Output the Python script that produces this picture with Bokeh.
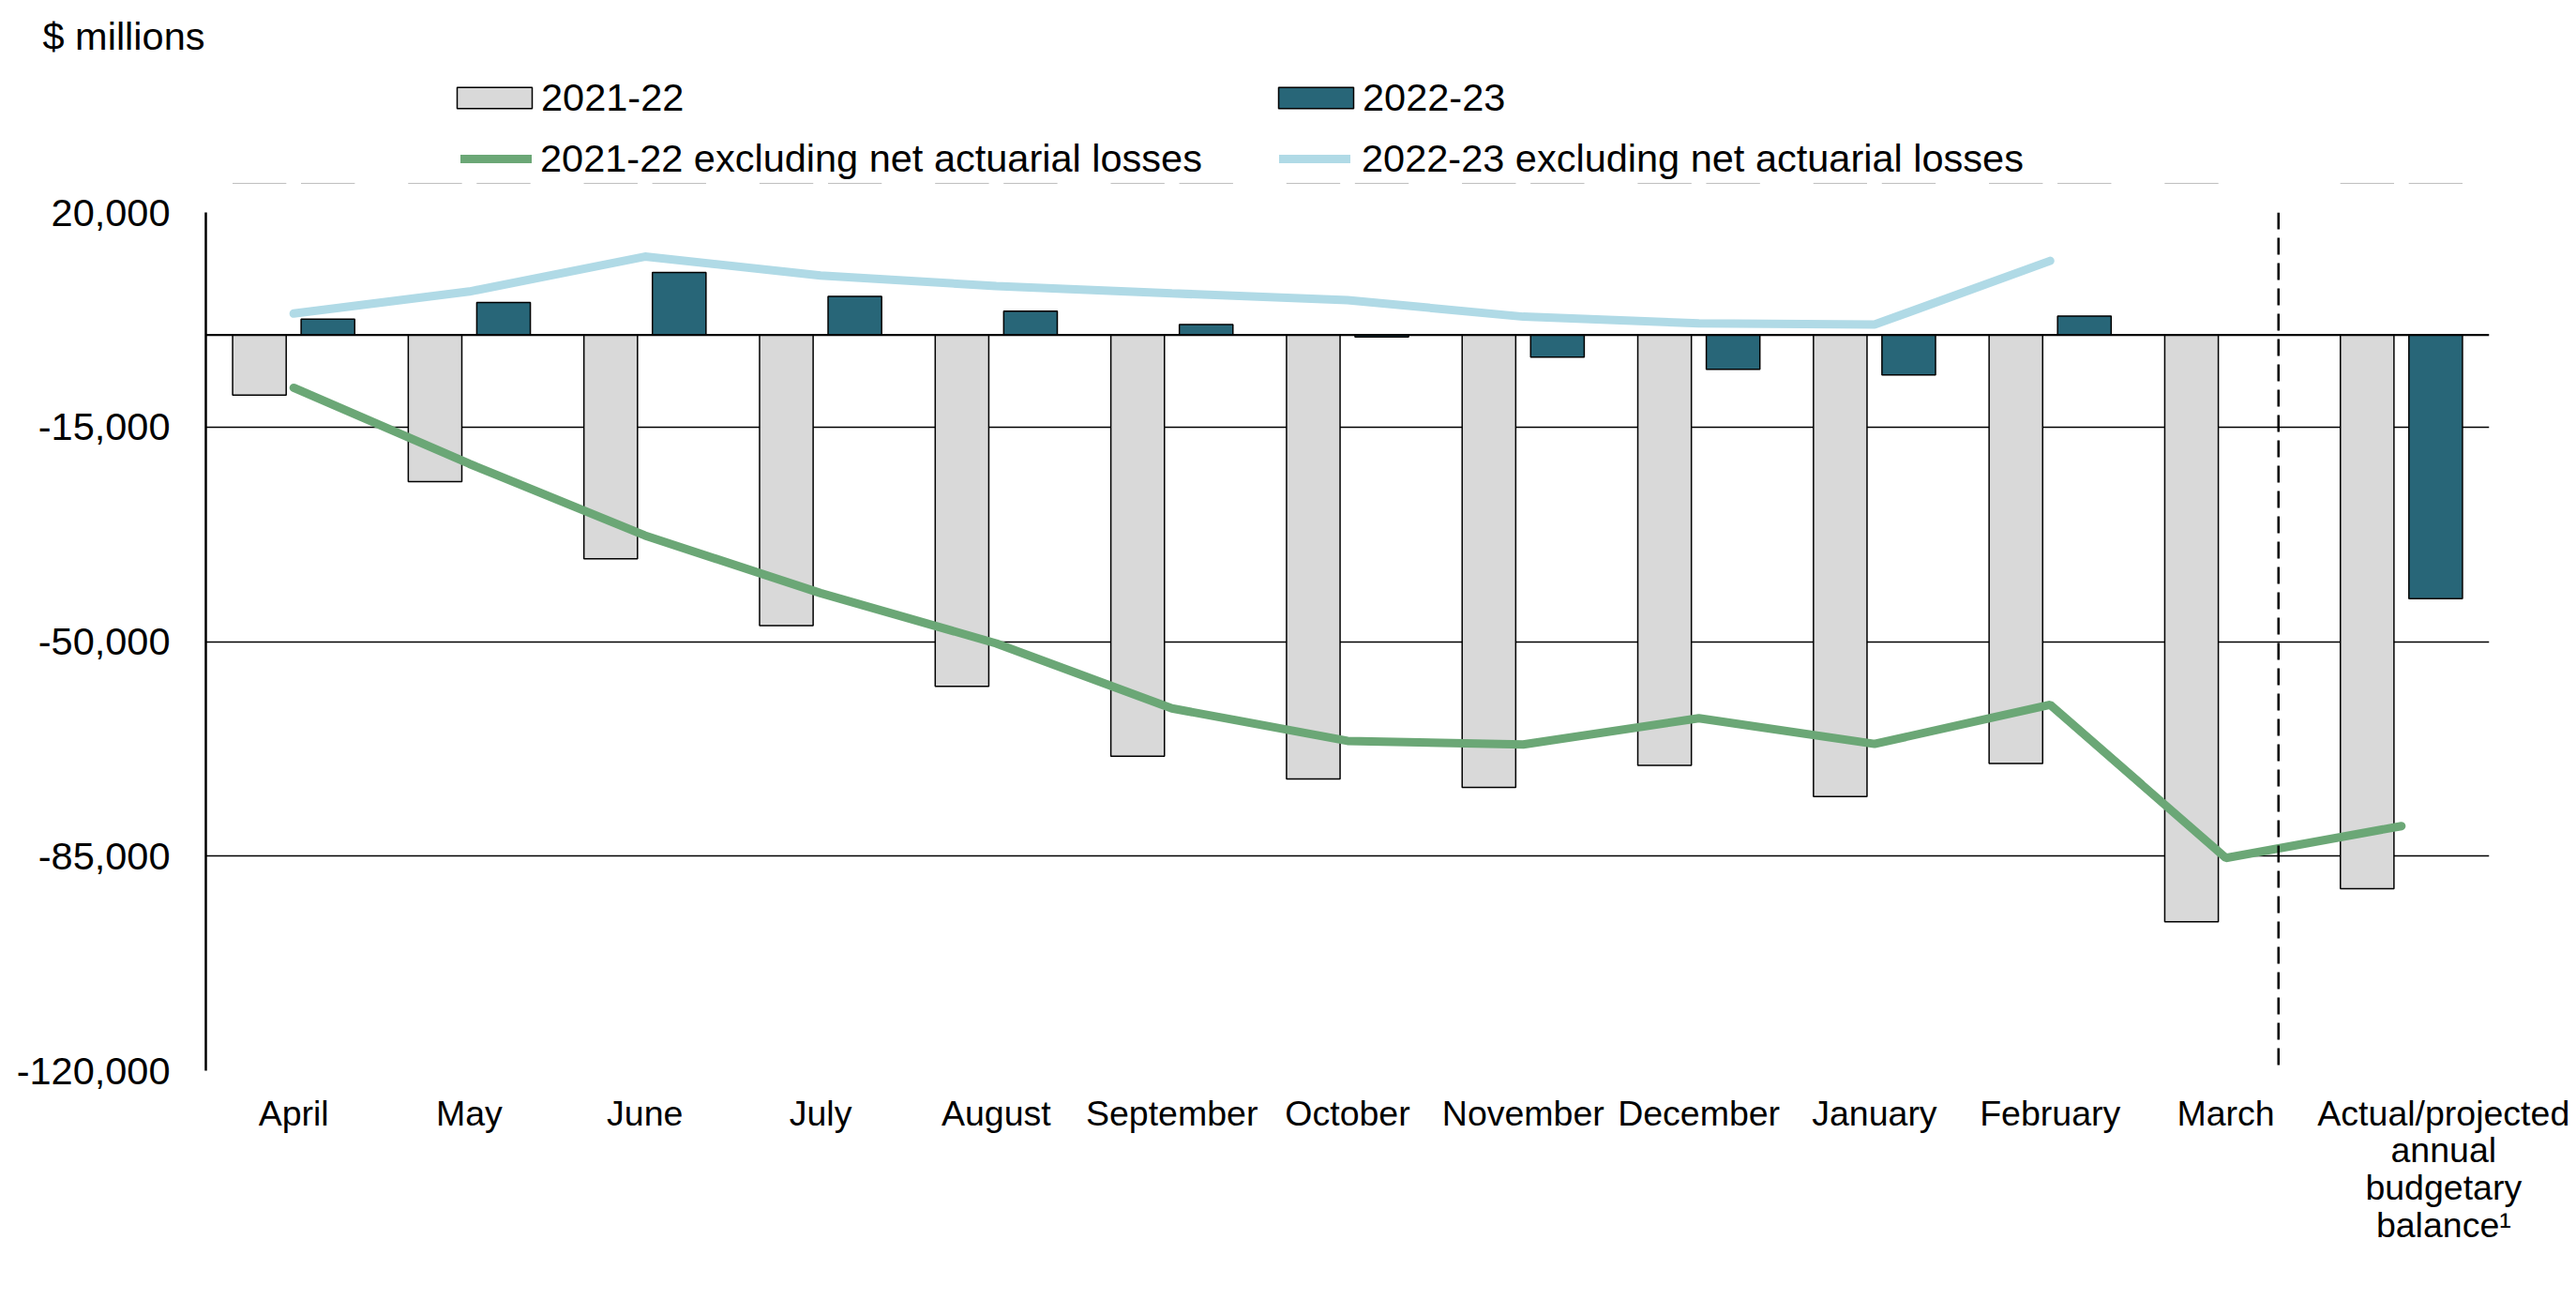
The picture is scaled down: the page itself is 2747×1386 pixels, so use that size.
import numpy as np
from bokeh.plotting import figure
from bokeh.layouts import column
from bokeh.models import (Range1d, FixedTicker, NumeralTickFormatter, CustomJSTickFormatter,
                          Span, Legend, LegendItem)
from bokeh.embed import file_html
from bokeh.resources import INLINE

# ---- data ($ millions) ----
categories = ["April", "May", "June", "July", "August", "September", "October",
              "November", "December", "January", "February", "March",
              "Actual/projected\nannual\nbudgetary\nbalance\u00b9"]
bal_2021_22 = [-9800, -23900, -36500, -47400, -57300, -68700, -72400,
               -73800, -70200, -75300, -69900, -95700, -90300]
bal_2022_23 = [2600, 5300, 10200, 6300, 3900, 1700, -300,
               -3600, -5600, -6500, 3100, np.nan, -43000]
excl_2021_22 = [-8600, -21000, -32700, -42100, -50300, -60900, -66200,
                -66800, -62500, -66700, -60300, -85300, -80100]
excl_2022_23 = [3500, 7100, 12800, 9700, 8000, 6800, 5700,
                3000, 1900, 1700, 12100]
y_ticks = [20000, -15000, -50000, -85000, -120000]
series_names = ["2021-22", "2022-23",
                "2021-22 excluding net actuarial losses",
                "2022-23 excluding net actuarial losses"]

FONT = "Liberation Sans"
GRAY = "#D9D9D9"
TEAL = "#286678"
GREEN = "#6BA776"
LBLUE = "#B0DAE6"

W = 2745
H_HEAD = 196
H_MAIN = 1386 - H_HEAD
FL = 219                     # frame left (shared by both plots)
FR = W - 2654
FT = 226 - H_HEAD
FB = H_MAIN - FT - 915

n = len(categories)
centers = np.arange(n) + 0.5
bar_w = 0.305
off = 0.195

def draw_series(fig):
    ra = fig.vbar(x=centers - off, top=bal_2021_22, bottom=0, width=bar_w,
                  fill_color=GRAY, line_color="black", line_width=1.5)
    rb = fig.vbar(x=centers + off, top=bal_2022_23, bottom=0, width=bar_w,
                  fill_color=TEAL, line_color="black", line_width=1.5)
    rc = fig.line(x=centers, y=excl_2021_22, line_color=GREEN, line_width=9,
                  line_cap="round")
    rd = fig.line(x=centers[:len(excl_2022_23)], y=excl_2022_23, line_color=LBLUE,
                  line_width=9, line_cap="round")
    return ra, rb, rc, rd

# ---------------- header (unit label + legend) ----------------
# its y range lies above all the data, so its series only serve the legend
ph = figure(width=W, height=H_HEAD, x_range=Range1d(0, n), y_range=Range1d(30000, 40000),
            x_axis_type=None, y_axis_type=None, output_backend="svg",
            toolbar_location=None, min_border=0,
            min_border_left=FL, min_border_right=FR)
ph.outline_line_color = None
ph.grid.visible = False
ph.title.text = "$ millions"
ph.title.align = "left"
ph.title.offset = 45 - FL
ph.title.standoff = 25
ph.title.text_font = FONT
ph.title.text_font_size = "41.5px"
ph.title.text_font_style = "normal"
ph.title.text_color = "black"

pa, pb, pc, pd = draw_series(ph)

def make_legend(label, r, loc, gw, standoff):
    return Legend(items=[LegendItem(label=label, renderers=[r])], location=loc,
                  orientation="vertical", padding=0, margin=0, spacing=0,
                  glyph_width=gw, glyph_height=28, label_height=48,
                  label_standoff=standoff, label_text_font=FONT,
                  label_text_font_size="41.5px", label_text_color="black",
                  border_line_color=None, background_fill_alpha=0)

row1 = H_HEAD - 128
row2 = H_HEAD - 193
ph.add_layout(make_legend(series_names[0], pa, (477 - FL, row1), 100, 0), "center")
ph.add_layout(make_legend(series_names[1], pb, (1353 - FL, row1), 100, 0), "center")
ph.add_layout(make_legend(series_names[2], pc, (491 - FL, row2), 76, 9), "center")
ph.add_layout(make_legend(series_names[3], pd, (1364 - FL, row2), 76, 12), "center")

# ---------------- main chart ----------------
p = figure(width=W, height=H_MAIN,
           x_range=Range1d(0, n), y_range=Range1d(-120000, 20000),
           output_backend="svg", toolbar_location=None,
           min_border_left=FL, min_border_right=FR,
           min_border_top=FT, min_border_bottom=FB)
p.outline_line_color = None
p.title.visible = False

p.xgrid.visible = False
p.ygrid.ticker = FixedTicker(ticks=y_ticks)
p.ygrid.grid_line_color = "black"
p.ygrid.grid_line_width = 1.7

p.yaxis.ticker = FixedTicker(ticks=y_ticks)
p.yaxis.formatter = NumeralTickFormatter(format="0,0")
p.yaxis.axis_line_color = "black"
p.yaxis.axis_line_width = 2.5
p.yaxis.major_tick_line_color = None
p.yaxis.minor_tick_line_color = None
p.yaxis.major_tick_out = 0
p.yaxis.major_tick_in = 0
p.yaxis.major_label_standoff = 38
p.yaxis.major_label_text_font = FONT
p.yaxis.major_label_text_font_size = "41.5px"
p.yaxis.major_label_text_color = "black"

tick_pos = list(centers[:-1]) + [centers[-1] + 0.24]
p.xaxis.ticker = FixedTicker(ticks=tick_pos)
p.xaxis.formatter = CustomJSTickFormatter(args=dict(labels=categories),
                                          code="return labels[Math.floor(tick)];")
p.xaxis.axis_line_color = None
p.xaxis.major_tick_line_color = None
p.xaxis.minor_tick_line_color = None
p.xaxis.major_tick_out = 0
p.xaxis.major_tick_in = 0
p.xaxis.major_label_standoff = 24
p.xaxis.major_label_text_font = FONT
p.xaxis.major_label_text_font_size = "37.5px"
p.xaxis.major_label_text_color = "black"
p.xaxis.major_label_text_line_height = 0.945

draw_series(p)

p.add_layout(Span(location=0, dimension="width", line_color="black", line_width=2.3))
p.add_layout(Span(location=11.8, dimension="height", line_color="black",
                  line_width=2.5, line_dash="18 9"))

open("out.html", "w").write(file_html(column(ph, p, spacing=0), INLINE))
